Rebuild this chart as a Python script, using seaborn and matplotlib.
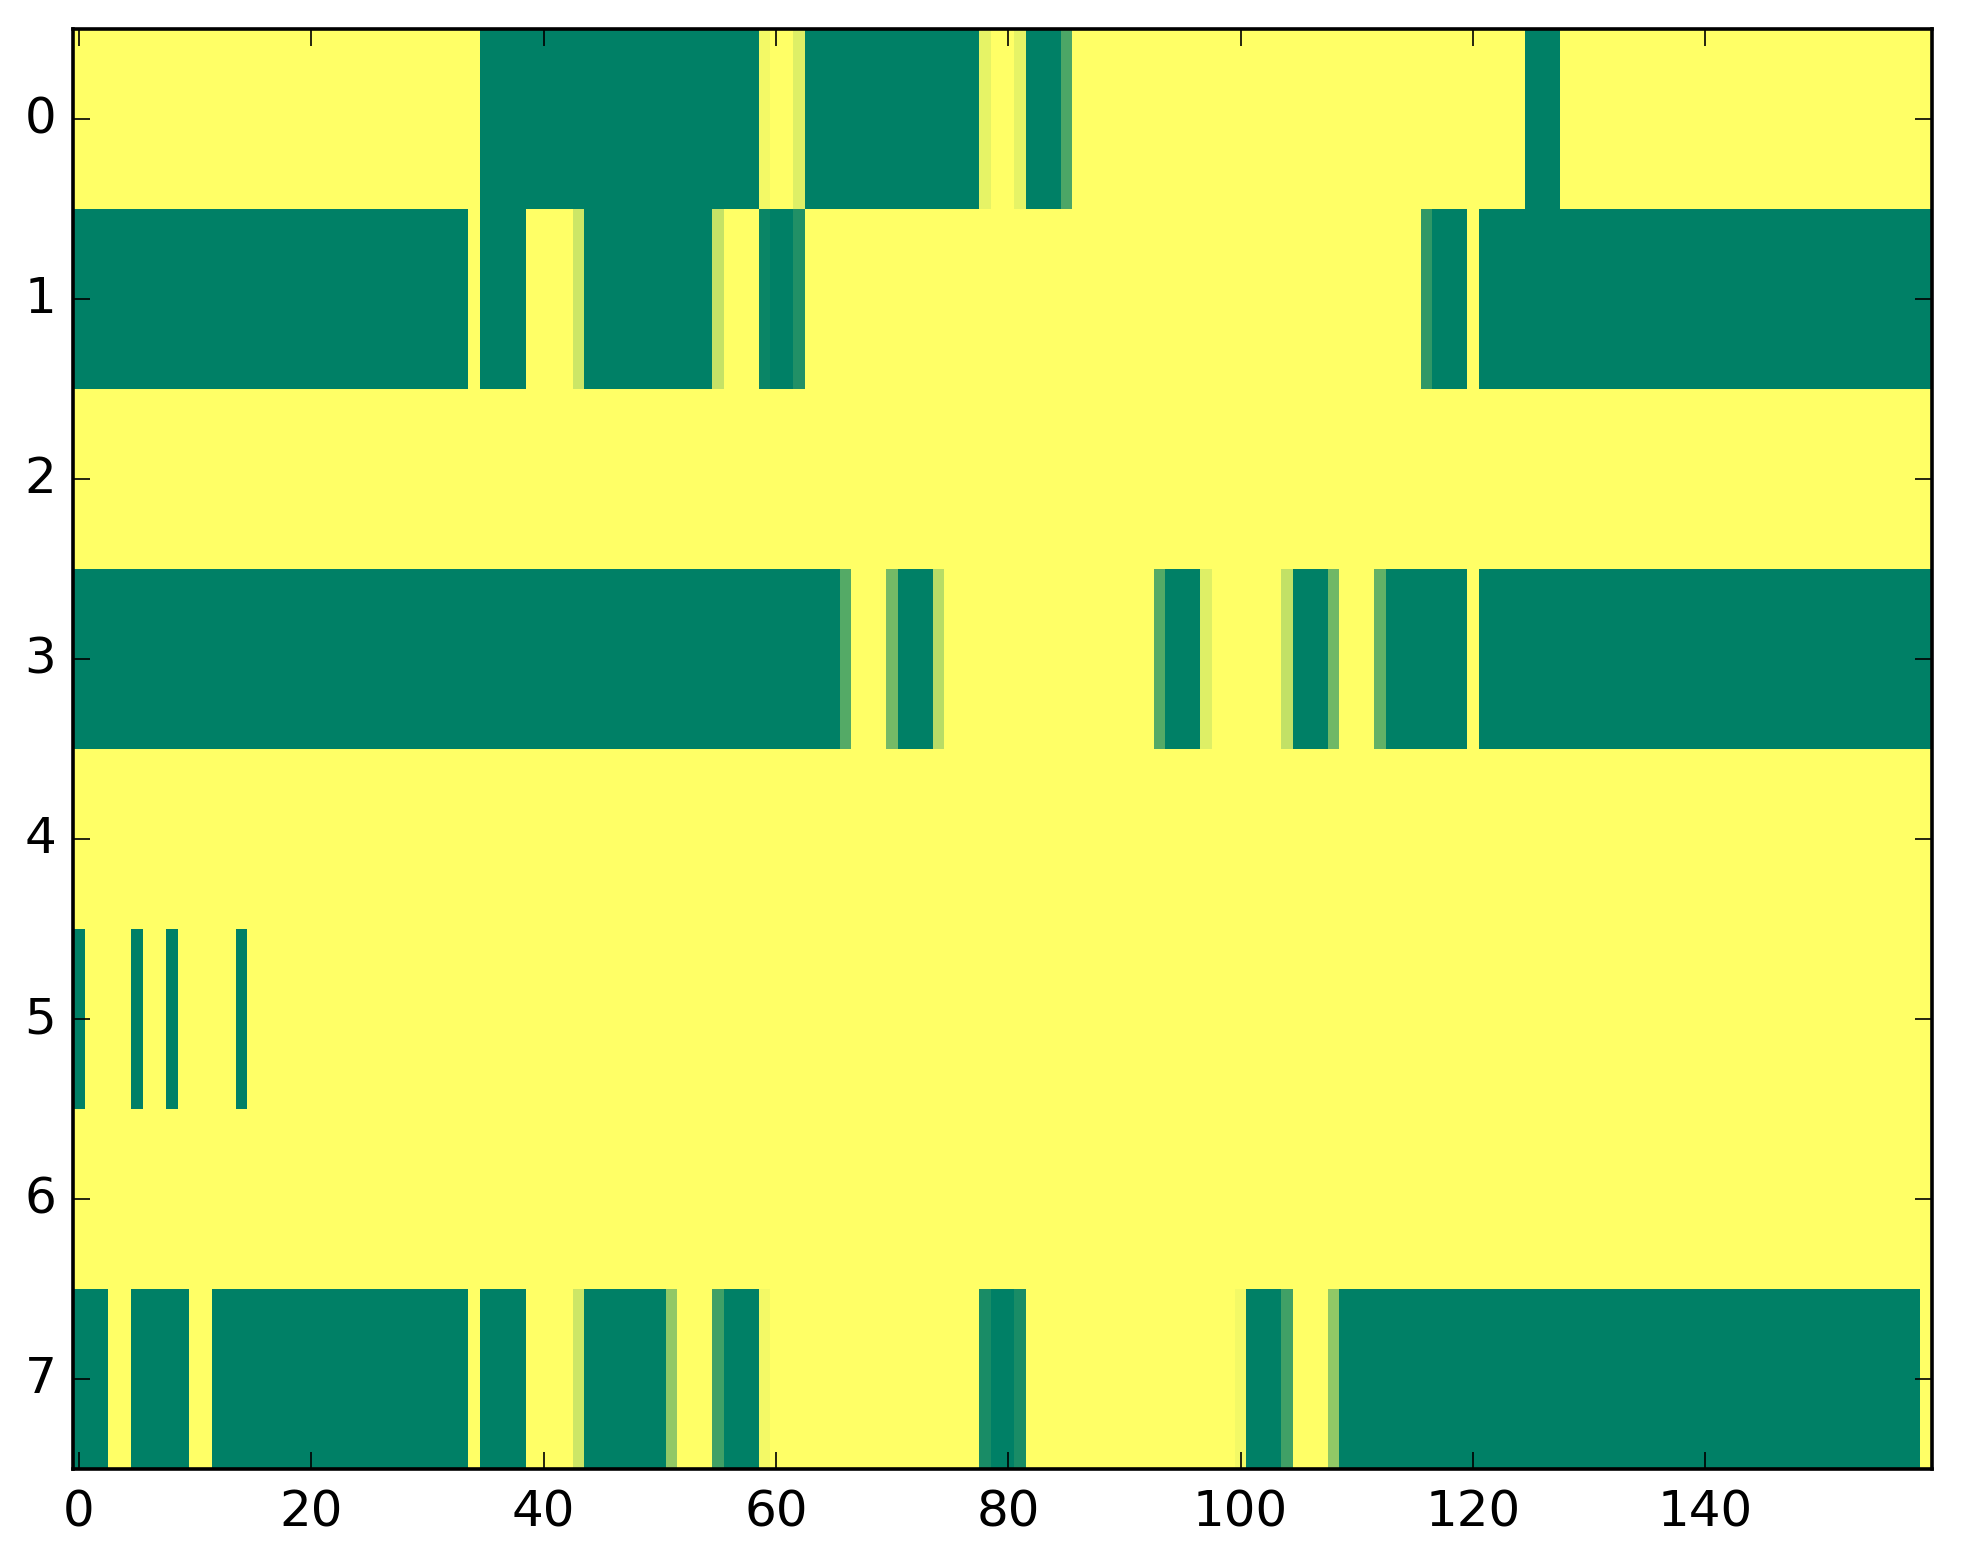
import numpy as np
import pandas as pd
import matplotlib
matplotlib.use("Agg")
import matplotlib.pyplot as plt
import seaborn as sns

# ---- data: 8 rows x 160 columns, values in [0, 1] (summer colormap: 0 green, 1 yellow)
row0 = [1, 1, 1, 1, 1, 1, 1, 1, 1, 1, 1, 1, 1, 1, 1, 1, 1, 1, 1, 1,
        1, 1, 1, 1, 1, 1, 1, 1, 1, 1, 1, 1, 1, 1, 1, 0, 0, 0, 0, 0,
        0, 0, 0, 0, 0, 0, 0, 0, 0, 0, 0, 0, 0, 0, 0, 0, 0, 0, 0, .95,
        1, 1, .87, 0, 0, 0, 0, 0, 0, 0, 0, 0, 0, 0, 0, 0, 0, 0, .9, 1,
        1, .9, 0, 0, 0, .3, 1, 1, 1, 1, 1, 1, 1, 1, 1, 1, 1, 1, 1, 1,
        1, 1, 1, 1, 1, 1, 1, 1, 1, 1, 1, 1, 1, 1, 1, 1, 1, 1, 1, 1,
        1, 1, 1, 1, 1, 0, 0, 0, 1, 1, 1, 1, 1, 1, 1, 1, 1, 1, 1, 1,
        1, 1, 1, 1, 1, 1, 1, 1, 1, 1, 1, 1, 1, 1, 1, 1, 1, 1, 1, 1]
row1 = [0, 0, 0, 0, 0, 0, 0, 0, 0, 0, 0, 0, 0, 0, 0, 0, 0, 0, 0, 0,
        0, 0, 0, 0, 0, 0, 0, 0, 0, 0, 0, 0, 0, 0, 1, 0, 0, 0, 0, 1,
        1, 1, 1, .8, 0, 0, 0, 0, 0, 0, 0, 0, 0, 0, 0, .77, 1, 1, 1, .04,
        0, 0, .13, 1, 1, 1, 1, 1, 1, 1, 1, 1, 1, 1, 1, 1, 1, 1, 1, 1,
        1, 1, 1, 1, 1, 1, 1, 1, 1, 1, 1, 1, 1, 1, 1, 1, 1, 1, 1, 1,
        1, 1, 1, 1, 1, 1, 1, 1, 1, 1, 1, 1, 1, 1, 1, 1, .19, 0, 0, 0,
        1, 0, 0, 0, 0, 0, 0, 0, 0, 0, 0, 0, 0, 0, 0, 0, 0, 0, 0, 0,
        0, 0, 0, 0, 0, 0, 0, 0, 0, 0, 0, 0, 0, 0, 0, 0, 0, 0, 0, 0]
row2 = [1, 1, 1, 1, 1, 1, 1, 1, 1, 1, 1, 1, 1, 1, 1, 1, 1, 1, 1, 1,
        1, 1, 1, 1, 1, 1, 1, 1, 1, 1, 1, 1, 1, 1, 1, 1, 1, 1, 1, 1,
        1, 1, 1, 1, 1, 1, 1, 1, 1, 1, 1, 1, 1, 1, 1, 1, 1, 1, 1, 1,
        1, 1, 1, 1, 1, 1, 1, 1, 1, 1, 1, 1, 1, 1, 1, 1, 1, 1, 1, 1,
        1, 1, 1, 1, 1, 1, 1, 1, 1, 1, 1, 1, 1, 1, 1, 1, 1, 1, 1, 1,
        1, 1, 1, 1, 1, 1, 1, 1, 1, 1, 1, 1, 1, 1, 1, 1, 1, 1, 1, 1,
        1, 1, 1, 1, 1, 1, 1, 1, 1, 1, 1, 1, 1, 1, 1, 1, 1, 1, 1, 1,
        1, 1, 1, 1, 1, 1, 1, 1, 1, 1, 1, 1, 1, 1, 1, 1, 1, 1, 1, 1]
row3 = [0, 0, 0, 0, 0, 0, 0, 0, 0, 0, 0, 0, 0, 0, 0, 0, 0, 0, 0, 0,
        0, 0, 0, 0, 0, 0, 0, 0, 0, 0, 0, 0, 0, 0, 0, 0, 0, 0, 0, 0,
        0, 0, 0, 0, 0, 0, 0, 0, 0, 0, 0, 0, 0, 0, 0, 0, 0, 0, 0, 0,
        0, 0, 0, 0, 0, 0, .33, 1, 1, 1, .46, 0, 0, 0, .72, 1, 1, 1, 1, 1,
        1, 1, 1, 1, 1, 1, 1, 1, 1, 1, 1, 1, 1, .33, 0, 0, 0, .87, 1, 1,
        1, 1, 1, 1, .76, 0, 0, 0, .44, 1, 1, 1, .39, 0, 0, 0, 0, 0, 0, 0,
        1, 0, 0, 0, 0, 0, 0, 0, 0, 0, 0, 0, 0, 0, 0, 0, 0, 0, 0, 0,
        0, 0, 0, 0, 0, 0, 0, 0, 0, 0, 0, 0, 0, 0, 0, 0, 0, 0, 0, 0]
row4 = [1, 1, 1, 1, 1, 1, 1, 1, 1, 1, 1, 1, 1, 1, 1, 1, 1, 1, 1, 1,
        1, 1, 1, 1, 1, 1, 1, 1, 1, 1, 1, 1, 1, 1, 1, 1, 1, 1, 1, 1,
        1, 1, 1, 1, 1, 1, 1, 1, 1, 1, 1, 1, 1, 1, 1, 1, 1, 1, 1, 1,
        1, 1, 1, 1, 1, 1, 1, 1, 1, 1, 1, 1, 1, 1, 1, 1, 1, 1, 1, 1,
        1, 1, 1, 1, 1, 1, 1, 1, 1, 1, 1, 1, 1, 1, 1, 1, 1, 1, 1, 1,
        1, 1, 1, 1, 1, 1, 1, 1, 1, 1, 1, 1, 1, 1, 1, 1, 1, 1, 1, 1,
        1, 1, 1, 1, 1, 1, 1, 1, 1, 1, 1, 1, 1, 1, 1, 1, 1, 1, 1, 1,
        1, 1, 1, 1, 1, 1, 1, 1, 1, 1, 1, 1, 1, 1, 1, 1, 1, 1, 1, 1]
row5 = [0, 1, 1, 1, 1, 0, 1, 1, 0, 1, 1, 1, 1, 1, 0, 1, 1, 1, 1, 1,
        1, 1, 1, 1, 1, 1, 1, 1, 1, 1, 1, 1, 1, 1, 1, 1, 1, 1, 1, 1,
        1, 1, 1, 1, 1, 1, 1, 1, 1, 1, 1, 1, 1, 1, 1, 1, 1, 1, 1, 1,
        1, 1, 1, 1, 1, 1, 1, 1, 1, 1, 1, 1, 1, 1, 1, 1, 1, 1, 1, 1,
        1, 1, 1, 1, 1, 1, 1, 1, 1, 1, 1, 1, 1, 1, 1, 1, 1, 1, 1, 1,
        1, 1, 1, 1, 1, 1, 1, 1, 1, 1, 1, 1, 1, 1, 1, 1, 1, 1, 1, 1,
        1, 1, 1, 1, 1, 1, 1, 1, 1, 1, 1, 1, 1, 1, 1, 1, 1, 1, 1, 1,
        1, 1, 1, 1, 1, 1, 1, 1, 1, 1, 1, 1, 1, 1, 1, 1, 1, 1, 1, 1]
row6 = [1, 1, 1, 1, 1, 1, 1, 1, 1, 1, 1, 1, 1, 1, 1, 1, 1, 1, 1, 1,
        1, 1, 1, 1, 1, 1, 1, 1, 1, 1, 1, 1, 1, 1, 1, 1, 1, 1, 1, 1,
        1, 1, 1, 1, 1, 1, 1, 1, 1, 1, 1, 1, 1, 1, 1, 1, 1, 1, 1, 1,
        1, 1, 1, 1, 1, 1, 1, 1, 1, 1, 1, 1, 1, 1, 1, 1, 1, 1, 1, 1,
        1, 1, 1, 1, 1, 1, 1, 1, 1, 1, 1, 1, 1, 1, 1, 1, 1, 1, 1, 1,
        1, 1, 1, 1, 1, 1, 1, 1, 1, 1, 1, 1, 1, 1, 1, 1, 1, 1, 1, 1,
        1, 1, 1, 1, 1, 1, 1, 1, 1, 1, 1, 1, 1, 1, 1, 1, 1, 1, 1, 1,
        1, 1, 1, 1, 1, 1, 1, 1, 1, 1, 1, 1, 1, 1, 1, 1, 1, 1, 1, 1]
row7 = [0, 0, 0, 1, 1, 0, 0, 0, 0, 0, 1, 1, 0, 0, 0, 0, 0, 0, 0, 0,
        0, 0, 0, 0, 0, 0, 0, 0, 0, 0, 0, 0, 0, 0, 1, 0, 0, 0, 0, 1,
        1, 1, 1, .8, 0, 0, 0, 0, 0, 0, 0, .57, 1, 1, 1, .25, 0, 0, 0, .95,
        1, 1, 1, 1, 1, 1, 1, 1, 1, 1, 1, 1, 1, 1, 1, 1, 1, 1, .1, 0,
        0, .1, 1, 1, 1, 1, 1, 1, 1, 1, 1, 1, 1, 1, 1, 1, 1, 1, 1, 1,
        .95, 0, 0, 0, .25, 1, 1, 1, .57, 0, 0, 0, 0, 0, 0, 0, 0, 0, 0, 0,
        0, 0, 0, 0, 0, 0, 0, 0, 0, 0, 0, 0, 0, 0, 0, 0, 0, 0, 0, 0,
        0, 0, 0, 0, 0, 0, 0, 0, 0, 0, 0, 0, 0, 0, 0, 0, 0, 0, 0, 1]

row_labels = ["0", "1", "2", "3", "4", "5", "6", "7"]
x_tick_values = [0, 20, 40, 60, 80, 100, 120, 140]
x_tick_labels = ["0", "20", "40", "60", "80", "100", "120", "140"]

rows = [row0, row1, row2, row3, row4, row5, row6, row7]
bad = [(i, len(r)) for i, r in enumerate(rows) if len(r) != 160]
assert not bad, bad
df = pd.DataFrame(rows, index=row_labels)

sns.set_style("white")
plt.rcParams["font.family"] = ["DejaVu Sans"]

W, H, DPI = 1963, 1564, 200
fig = plt.figure(figsize=(W / DPI, H / DPI), dpi=DPI)
ax = fig.add_axes([73 / W, 95 / H, 1859 / W, 1440 / H])

sns.heatmap(df, cmap="summer", vmin=0, vmax=1, cbar=False, ax=ax,
            xticklabels=False, yticklabels=False, linewidths=0)

ax.set_xticks(np.array(x_tick_values) + 0.5)
ax.set_xticklabels(x_tick_labels, rotation=0)
ax.set_yticks(np.arange(len(row_labels)) + 0.5)
ax.set_yticklabels(row_labels, rotation=0, va="center")
ax.set_xlim(0, 160)
ax.set_ylim(8, 0)

# ticks must be drawn above the heatmap mesh
ax.set_axisbelow(False)
ax.tick_params(axis="both", direction="in", top=True, right=True,
               bottom=True, left=True, length=6, width=0.6,
               color="black", labelsize=18, labelcolor="black")
ax.tick_params(axis="x", pad=7)
ax.tick_params(axis="y", pad=6)

for s in ax.spines.values():
    s.set_visible(True)
    s.set_linewidth(1.3)
    s.set_color("black")
    s.set_zorder(5)

fig.savefig("out.png", dpi=DPI, facecolor="white")
